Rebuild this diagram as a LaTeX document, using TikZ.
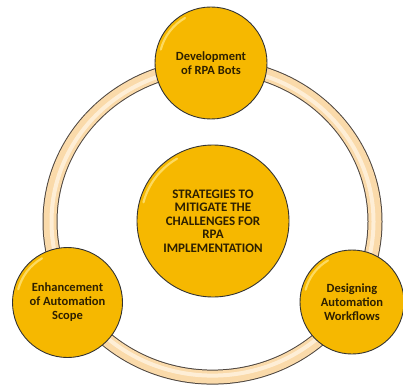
\documentclass[tikz,border=0pt]{standalone}
\usepackage{fontspec}
\setmainfont{Carlito}

\definecolor{gold}{HTML}{F6B800}
\definecolor{goldlight}{HTML}{FFE070}
\definecolor{labeltext}{HTML}{2E2000}
\definecolor{ringfill}{HTML}{FADAAA}
\definecolor{ringlight}{HTML}{FFF4E2}
\definecolor{ringedge}{HTML}{4E4640}

\begin{document}
\begin{tikzpicture}[x=1pt,y=-1pt,
  bubble/.style={circle, draw=black!80, line width=0.9pt, fill=gold, text=labeltext,
    font=\bfseries\fontsize{12.5}{14}\selectfont, align=center, inner sep=0pt},
  bubblelight/.style={goldlight, line width=2.2pt, line cap=round, opacity=0.85}]
\useasboundingbox (0,0) rectangle (403,387);

% the ring behind the bubbles
\draw[line width=15pt, ringedge] (212.5,221.6) ellipse [x radius=162.5, y radius=155.5];
\draw[line width=13pt, ringfill] (212.5,221.6) ellipse [x radius=162.5, y radius=155.5];
\draw[line width=4pt, ringlight, opacity=0.8] (212.5,221.6) ellipse [x radius=161, y radius=154];

\node[bubble, minimum size=152, font=\bfseries\fontsize{13}{13.6}\selectfont] (core) at (213,221)
  {STRATEGIES TO\\MITIGATE THE\\CHALLENGES FOR\\RPA\\IMPLEMENTATION};
\node[bubble, minimum size=112] (dev) at (211,63) {Development\\of RPA Bots};
\node[bubble, minimum size=110] (scope) at (67.5,302.5) {Enhancement\\of Automation\\Scope};
\node[bubble, minimum size=104] (flow) at (352,302) {Designing\\Automation\\Workflows};

% light streaks along the upper left rims
\foreach \n/\r in {core/72, dev/52, scope/51, flow/48}
  \draw[bubblelight] (\n.center) ++(195:\r) arc[start angle=195, end angle=240, radius=\r];
\end{tikzpicture}
\end{document}
